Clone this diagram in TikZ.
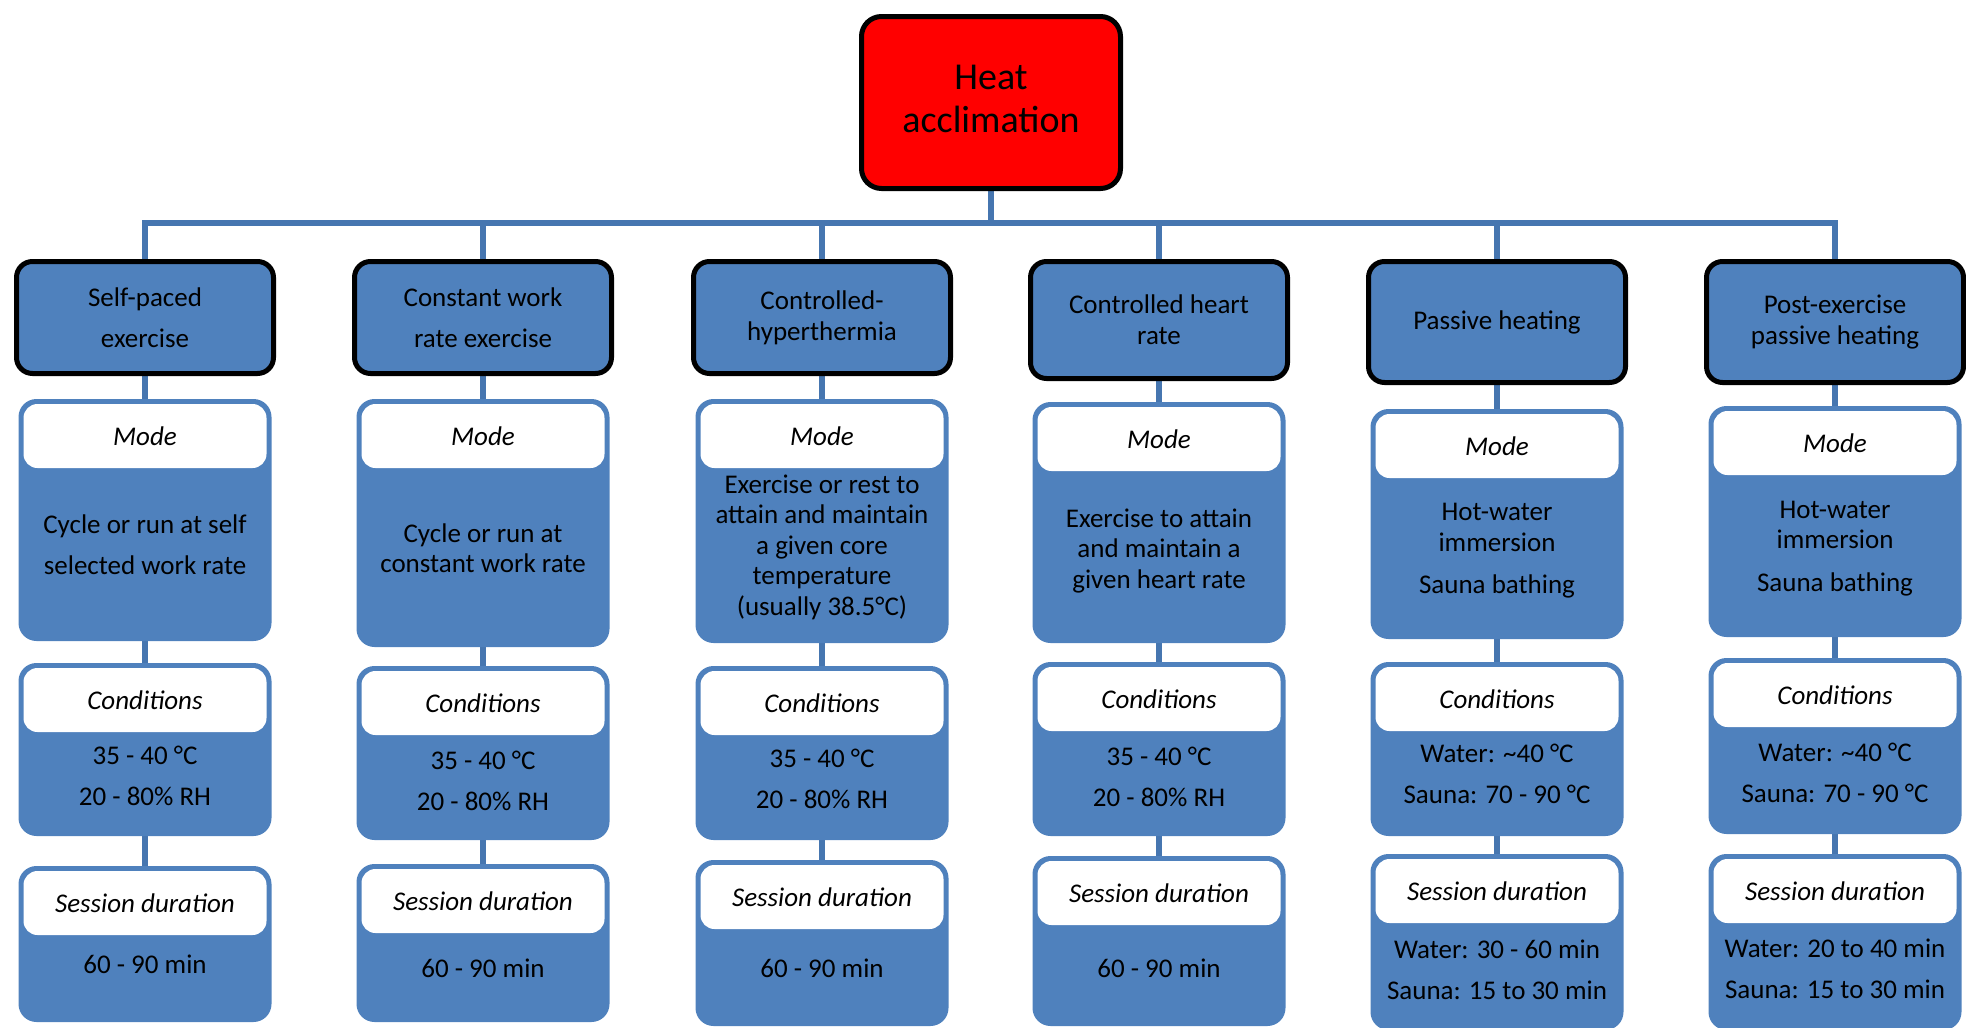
\documentclass[tikz,border=0pt]{standalone}
\usepackage{fontspec}
\setmainfont{Carlito}
\usetikzlibrary{backgrounds}
\definecolor{boxblue}{RGB}{79,129,189}
\definecolor{lineblue}{RGB}{70,118,176}
\newcommand\fA{\fontsize{27}{41}\selectfont}
\newcommand\fB{\fontsize{27}{30.5}\selectfont}
\newcommand\fC{\fontsize{27}{31}\selectfont}
\tikzset{
  conn/.style={draw=lineblue, line width=5.5pt},
  rootbox/.style={draw=black, line width=5pt, fill=red, rounded corners=20pt,
    minimum width=259pt, minimum height=172pt, anchor=north, align=center,
    font=\fontsize{38}{43}\selectfont, inner sep=0pt},
  topbox/.style={draw=black, line width=5pt, fill=boxblue, rounded corners=16pt,
    minimum width=257pt, anchor=north, align=center, inner sep=0pt},
  blk/.style={fill=boxblue, rounded corners=18pt, minimum width=253pt,
    anchor=north, outer sep=0pt, inner sep=0pt},
  hdr/.style={fill=white, rounded corners=14pt, minimum width=243pt,
    minimum height=64pt, anchor=north, outer sep=0pt, inner sep=0pt,
    font=\fC\itshape},
  body/.style={anchor=north, align=center, inner sep=0pt, outer sep=0pt},
}
\newcommand\colblk[5]{%
  \node[blk, minimum height={#4-#3}] (#1) at (#2,#3) {};
  \node[hdr] (#1h) at ([yshift=-5pt]#1.north) {#5};
}
\begin{document}
\begin{tikzpicture}[x=1pt,y=-1pt]
\useasboundingbox (0,0) rectangle (1966,1028);
\node[rootbox] (root) at (991,14) {Heat\\acclimation\rule[-8pt]{0pt}{8pt}};
\coordinate (bus) at (0,223);

% level 1
\node[topbox, minimum height=112pt, font=\fA] (L1) at (145,259) {Self-paced\\exercise};
\node[topbox, minimum height=112pt, font=\fA] (L2) at (483,259) {Constant work\\rate exercise};
\node[topbox, minimum height=112pt, font=\fC] (L3) at (822,259) {Controlled-\\hyperthermia};
\node[topbox, minimum height=117pt, font=\fC] (L4) at (1159,259) {Controlled heart\\rate};
\node[topbox, minimum height=121pt, font=\fC] (L5) at (1497,259) {Passive heating};
\node[topbox, minimum height=121pt, font=\fC] (L6) at (1835,259) {Post-exercise\\passive heating};

% Mode blocks
\colblk{M1}{145}{399}{641}{Mode}
\colblk{M2}{483}{399}{647}{Mode}
\colblk{M3}{822}{399}{643}{Mode}
\colblk{M4}{1159}{402}{643}{Mode}
\colblk{M5}{1497}{409}{639}{Mode}
\colblk{M6}{1835}{406}{637}{Mode}
\node[body, font=\fA] (M1t) at (145,504.3) {\strut Cycle or run at self\\selected work rate};
\node[body, font=\fB] (M2t) at (483,520.7) {\strut Cycle or run at\\constant work rate};
\node[body, font=\fB] (M3t) at (822,471.7) {\strut Exercise or rest to\\attain and maintain\\a given core\\temperature\\(usually 38.5°C)};
\node[body, font=\fB] (M4t) at (1159,505.7) {\strut Exercise to attain\\and maintain a\\given heart rate};
\node[body, font=\fB] (M5t) at (1497,499.2) {\strut Hot-water\\immersion\\[12pt]Sauna bathing};
\node[body, font=\fB] (M6t) at (1835,496.7) {\strut Hot-water\\immersion\\[12pt]Sauna bathing};

% Conditions blocks
\colblk{C1}{145}{663}{836}{Conditions}
\colblk{C2}{483}{666}{840}{Conditions}
\colblk{C3}{822}{666}{840}{Conditions}
\colblk{C4}{1159}{662}{836}{Conditions}
\colblk{C5}{1497}{662}{836}{Conditions}
\colblk{C6}{1835}{658}{834}{Conditions}
\node[body, font=\fA] (C1t) at (145,735.3) {\strut 35 - 40 °C\\20 - 80\% RH};
\node[body, font=\fA] (C2t) at (483,740.3) {\strut 35 - 40 °C\\20 - 80\% RH};
\node[body, font=\fA] (C3t) at (822,738.8) {\strut 35 - 40 °C\\20 - 80\% RH};
\node[body, font=\fA] (C4t) at (1159,736.3) {\strut 35 - 40 °C\\20 - 80\% RH};
\node[body, font=\fA] (C5t) at (1497,733.8) {\strut Water: \textasciitilde 40 °C\\Sauna: 70 - 90 °C};
\node[body, font=\fA] (C6t) at (1835,732.3) {\strut Water: \textasciitilde 40 °C\\Sauna: 70 - 90 °C};

% Session blocks
\colblk{S1}{145}{866}{1022}{Session duration}
\colblk{S2}{483}{864}{1022}{Session duration}
\colblk{S3}{822}{860}{1026}{Session duration}
\colblk{S4}{1159}{856}{1026}{Session duration}
\colblk{S5}{1497}{854}{1030}{Session duration}
\colblk{S6}{1835}{854}{1030}{Session duration}
\node[body, font=\fA] (S1t) at (145,944.3) {\strut 60 - 90 min};
\node[body, font=\fA] (S2t) at (483,948.3) {\strut 60 - 90 min};
\node[body, font=\fA] (S3t) at (822,948.3) {\strut 60 - 90 min};
\node[body, font=\fA] (S4t) at (1159,948.3) {\strut 60 - 90 min};
\node[body, font=\fA] (S5t) at (1497,929.3) {\strut Water: 30 - 60 min\\Sauna: 15 to 30 min};
\node[body, font=\fA] (S6t) at (1835,928.3) {\strut Water: 20 to 40 min\\Sauna: 15 to 30 min};

\begin{scope}[on background layer]
  \draw[conn] (root.south) -- (root.south |- bus);
  \draw[conn, line cap=rect] (L1.north |- bus) -- (L6.north |- bus);
  \foreach \i in {1,...,6} {
    \draw[conn] (L\i.north) -- (L\i.north |- bus);
    \draw[conn] (L\i.south) -- (M\i.north);
    \draw[conn] (M\i.south) -- (C\i.north);
    \draw[conn] (C\i.south) -- (S\i.north);
  }
\end{scope}
\end{tikzpicture}
\end{document}
